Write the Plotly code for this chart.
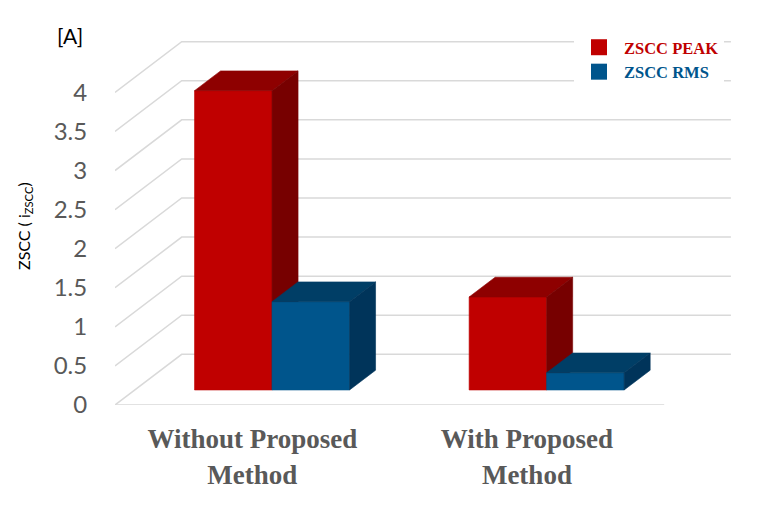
import plotly.graph_objects as go

# data
categories = ["<b>Without Proposed</b><br><b>Method</b>", "<b>With Proposed</b><br><b>Method</b>"]
series_names = ["ZSCC PEAK", "ZSCC RMS"]
peak_values = [3.83, 1.19]
rms_values = [1.13, 0.22]
y_ticks = [0, 0.5, 1, 1.5, 2, 2.5, 3, 3.5, 4]

front_colors = ["#C00000", "#00558C"]
top_colors = ["#8E0000", "#003E66"]
side_colors = ["#770000", "#00345A"]

# pixel geometry of the oblique projection
PX_X = 274.6          # px per category
PX_Y = 78.15          # px per value unit
DX = 66.7 / PX_X      # full floor depth, in x data units
DY = 50.7 / PX_Y      # full floor depth, in y data units
F0, F1 = 0.296, 0.686  # bar depth (fraction of floor)
BAR_W = 77.5 / PX_X

OFF = 8  # page body margin
W, H = 776, 506
L, R, T, B = 115 - OFF, 40 + OFF, 36 - OFF, 101 + OFF
PW, PH = W - L - R, H - T - B
x_max = PW / PX_X
y_max = PH / PX_Y


def px_x(p):
    return (p - OFF - L) / PW


def px_y(p):
    return (H - B - (p - OFF)) / PH


fig = go.Figure()

grid = dict(color="#D9D9D9", width=1.5)
n_cat = len(categories)
for v in y_ticks:
    fig.add_trace(go.Scatter(
        x=[0, DX, n_cat + DX], y=[v, v + DY, v + DY],
        mode="lines", line=grid, hoverinfo="skip", showlegend=False))
# floor front edge
fig.add_trace(go.Scatter(x=[0, n_cat], y=[0, 0], mode="lines", line=grid,
                         hoverinfo="skip", showlegend=False))


def poly(xs, ys, color):
    fig.add_trace(go.Scatter(
        x=xs + [xs[0]], y=ys + [ys[0]], mode="lines", fill="toself",
        fillcolor=color, line=dict(color=color, width=0.6),
        hoverinfo="skip", showlegend=False))


td = F1 - F0
for i in range(n_cat):
    c = i + 0.5 + F0 * DX
    base = F0 * DY
    for j, vals in enumerate([peak_values, rms_values]):
        xl = c - BAR_W + j * BAR_W
        xr = xl + BAR_W
        top = base + vals[i]
        # front
        poly([xl, xr, xr, xl], [base, base, top, top], front_colors[j])
        # top
        poly([xl, xr, xr + td * DX, xl + td * DX],
             [top, top, top + td * DY, top + td * DY], top_colors[j])
        # side
        poly([xr, xr + td * DX, xr + td * DX, xr],
             [base, base + td * DY, top + td * DY, top], side_colors[j])

# legend entries
for name, col in zip(series_names, front_colors):
    fig.add_trace(go.Scatter(
        x=[None], y=[None], mode="markers",
        marker=dict(symbol="square", size=18, color=col),
        name=f"<b><span style='color:{col}'>{name}</span></b>"))

fig.update_layout(
    width=W, height=H,
    margin=dict(l=L, r=R, t=T, b=B),
    plot_bgcolor="white", paper_bgcolor="white",
    showlegend=True,
    legend=dict(x=px_x(574), y=px_y(30), xanchor="left", yanchor="top",
                bgcolor="white", itemwidth=40,
                font=dict(family="Liberation Serif", size=16.5, color="#C00000"),
                tracegroupgap=0),
    xaxis=dict(range=[0, x_max], tickvals=[0.5, 1.5], ticktext=categories,
               showgrid=False, zeroline=False, showline=False,
               ticks="outside", ticklen=10, tickcolor="rgba(0,0,0,0)",
               tickfont=dict(family="Liberation Serif", size=27, color="#595959"),
               fixedrange=True),
    yaxis=dict(range=[0, y_max], tickvals=y_ticks,
               ticktext=[f"{v:g}" for v in y_ticks],
               showgrid=False, zeroline=False, showline=False,
               ticks="outside", ticklen=22, tickcolor="rgba(0,0,0,0)",
               tickfont=dict(family="Lato", size=24, color="#595959"),
               fixedrange=True),
    annotations=[
        dict(text="[A]", xref="paper", yref="paper",
             x=px_x(70), y=px_y(35), xanchor="center", yanchor="middle",
             showarrow=False, font=dict(family="Lato", size=21, color="black")),
        dict(text="ZSCC ( i<sub>ZSCC</sub>)", xref="paper", yref="paper",
             x=px_x(24), y=px_y(226), xanchor="center", yanchor="middle",
             textangle=-90, showarrow=False,
             font=dict(family="Lato", size=16, color="black")),
    ],
)

fig.write_html("out.html")
